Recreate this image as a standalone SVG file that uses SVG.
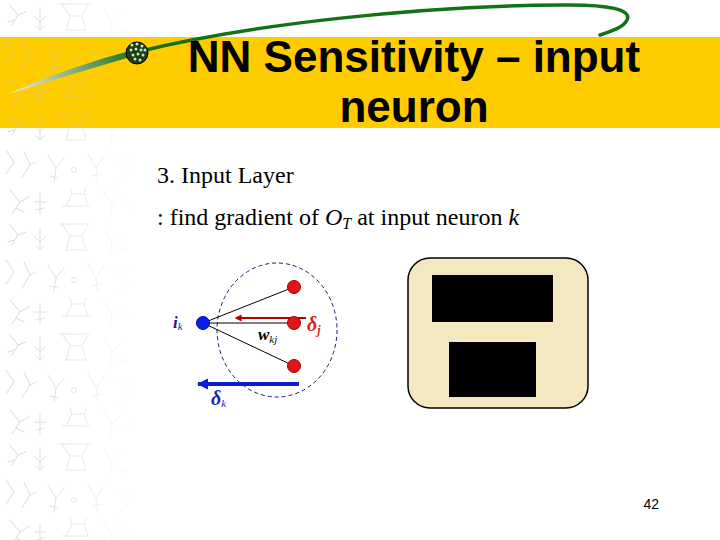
<svg xmlns="http://www.w3.org/2000/svg" width="720" height="540" viewBox="0 0 720 540">
<style>
.title{font-family:"Liberation Sans",Arial,sans-serif;font-weight:bold;font-size:44px;fill:#000}
.body{font-family:"Liberation Serif","Times New Roman",serif;font-size:24px;fill:#000}
.lbl{font-family:"Liberation Serif","Times New Roman",serif;font-weight:bold;font-style:italic}
.edge{stroke:#000;stroke-width:1}
.red{fill:#e01515;stroke:#a00000;stroke-width:1}
.blue{fill:#0a1ee8;stroke:#000a90;stroke-width:1}
.deco{fill:none;stroke:#cdc7b4;stroke-width:1;stroke-linecap:round}
</style>
<defs>
<pattern id="pat" x="0" y="0" width="140" height="110" patternUnits="userSpaceOnUse">
<g class="deco">
<path d="M10,5 L18,15 L12,25 M18,15 L26,12 M14,20 L8,22"/>
<path d="M40,8 L40,30 M34,16 L40,22 L46,16 M36,26 L40,30 L44,26"/>
<path d="M60,4 L90,4 M62,4 L70,16 L82,16 L88,4 M70,16 L66,30 M82,16 L86,30 M66,30 L86,30"/>
<path d="M105,10 L112,22 L120,14 M112,22 L110,34 M116,28 L122,32"/>
<circle cx="125" cy="30" r="2.5"/>
<path d="M6,40 L14,52 L6,64 M24,42 L30,55 L22,68 M30,55 L36,52"/>
<path d="M48,45 L56,58 M56,58 L64,48 M56,58 L54,72 M50,66 L58,68"/>
<circle cx="74" cy="60" r="2.5"/>
<path d="M88,44 L96,58 L104,46 M96,58 L98,72 M92,66 L102,64"/>
<path d="M115,50 L130,62 L118,74 M124,56 L128,50"/>
<path d="M10,80 L20,92 L12,104 M20,92 L30,86 M16,98 L24,102"/>
<path d="M40,84 L40,104 M34,92 L46,92 M36,100 L44,98"/>
<path d="M62,96 L90,96 M66,96 L72,84 L84,84 L88,96 M72,84 L70,78 M84,84 L86,78"/>
<path d="M104,82 L112,94 L120,86 M112,94 L110,106"/>
<circle cx="130" cy="96" r="2.5"/>
</g>
</pattern>
<linearGradient id="fade" x1="0" y1="0" x2="140" y2="0" gradientUnits="userSpaceOnUse">
<stop offset="0" stop-color="#fff" stop-opacity="1"/>
<stop offset="0.5" stop-color="#fff" stop-opacity="0.6"/>
<stop offset="1" stop-color="#fff" stop-opacity="0"/>
</linearGradient>
<mask id="m"><rect x="0" y="0" width="150" height="540" fill="url(#fade)"/></mask>
<linearGradient id="tail" x1="10" y1="93" x2="137" y2="52" gradientUnits="userSpaceOnUse">
<stop offset="0" stop-color="#f4f0dc"/>
<stop offset="1" stop-color="#14701a"/>
</linearGradient>
<marker id="ahr" viewBox="0 0 10 10" refX="8" refY="5" markerWidth="3.5" markerHeight="3.5" orient="auto">
<path d="M0,0 L10,5 L0,10 Z" fill="#b00000"/>
</marker>
<marker id="ahb" viewBox="0 0 10 10" refX="9" refY="5" markerWidth="3" markerHeight="2.8" orient="auto">
<path d="M0,0 L10,5 L0,10 Z" fill="#0a1ed8"/>
</marker>
</defs>

<rect x="0" y="0" width="720" height="540" fill="#fff"/>
<rect x="0" y="37" width="720" height="91" fill="#ffcc00"/>
<rect x="0" y="0" width="150" height="540" fill="url(#pat)" mask="url(#m)" opacity="0.75"/>

<g id="decoration">
<path d="M8,94 Q70,66 137,49 L137,55 Q72,74 8,94 Z" fill="url(#tail)"/>
<path d="M137,52 C250,24 420,6 560,5 C610,4 632,10 627,20 C624,27 612,31 600,35" fill="none" stroke="#14701a" stroke-width="3.5" stroke-linecap="round"/>
<g id="bullet">
<circle cx="137" cy="53" r="11" fill="#1c3a1c" stroke="#000" stroke-width="1"/>
<g fill="#c4ecb0">
<circle cx="132" cy="45" r="1.5"/><circle cx="137" cy="44" r="1.5"/><circle cx="142" cy="46" r="1.5"/>
<circle cx="131" cy="50" r="1.5"/><circle cx="136" cy="49" r="1.5"/><circle cx="141" cy="50" r="1.5"/><circle cx="145" cy="50" r="1.5"/>
<circle cx="133" cy="55" r="1.5"/><circle cx="138" cy="54" r="1.5"/><circle cx="143" cy="55" r="1.5"/>
<circle cx="135" cy="59" r="1.5"/><circle cx="140" cy="60" r="1.5"/>
</g>
</g>
</g>

<g id="title">
<text class="title" x="414" y="72" text-anchor="middle">NN Sensitivity – input</text>
<text class="title" x="414" y="122" text-anchor="middle">neuron</text>
</g>

<g id="body-text">
<text class="body" x="157" y="183">3. Input Layer</text>
<text class="body" x="157" y="225">: find gradient of <tspan font-style="italic">O</tspan><tspan font-style="italic" font-size="16" dy="4">T</tspan><tspan dy="-4"> at input neuron </tspan><tspan font-style="italic">k</tspan></text>
</g>

<g id="scope">
<ellipse cx="277" cy="330" rx="60" ry="67" fill="none" stroke="#1a1a70" stroke-width="1" stroke-dasharray="4,3"/>
</g>

<g id="connectors">
<line class="edge" x1="203" y1="323" x2="294" y2="287"/>
<line class="edge" x1="203" y1="323" x2="294" y2="323"/>
<line class="edge" x1="203" y1="323" x2="294" y2="366"/>
<line x1="306" y1="318" x2="236" y2="318" stroke="#b00000" stroke-width="2" marker-end="url(#ahr)"/>
<line x1="299" y1="384" x2="198" y2="384" stroke="#0a1ed8" stroke-width="4" marker-end="url(#ahb)"/>
</g>

<g id="node-ik">
<circle class="blue" cx="203" cy="323" r="6.5"/>
<text class="lbl" x="173" y="328" font-size="17" fill="#1a1a90">i<tspan font-size="11" font-weight="normal" dy="2">k</tspan></text>
</g>
<g id="node-j1"><circle class="red" cx="294" cy="287" r="6.5"/></g>
<g id="node-j2">
<circle class="red" cx="294" cy="323" r="6.5"/>
<text class="lbl" x="307" y="331" font-size="20" fill="#e02020" font-weight="normal">δ<tspan font-size="12" dy="3">j</tspan></text>
</g>
<g id="node-j3"><circle class="red" cx="294" cy="366" r="6.5"/></g>

<text class="lbl" x="258" y="340" font-size="17" fill="#000">w<tspan font-size="11" font-weight="normal" dy="3">kj</tspan></text>
<text class="lbl" x="211" y="405" font-size="20" fill="#1a28c0">δ<tspan font-size="11" font-weight="normal" dy="2">k</tspan></text>

<g id="image-box">
<rect x="408" y="258" width="180" height="150" rx="22" ry="22" fill="#f4e8c2" stroke="#000" stroke-width="1.5"/>
<rect x="432" y="275" width="121" height="47" fill="#000"/>
<rect x="449" y="342" width="87" height="55" fill="#000"/>
</g>

<text x="659" y="509" font-family="'Liberation Sans',Arial,sans-serif" font-size="14" text-anchor="end" fill="#000">42</text>
</svg>
